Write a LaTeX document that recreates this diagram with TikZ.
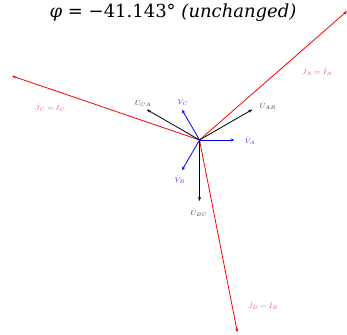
\documentclass[tikz,border=0pt]{standalone}
\usepackage{fontspec}
\newfontfamily\titlefont{DejaVu Serif}
\usetikzlibrary{calc,arrows.meta}
\begin{document}
\begin{tikzpicture}[x=1pt,y=1pt,
  cur/.style={draw=red,line width=0.8pt,-{Stealth[length=4pt,width=3pt]}},
  volt/.style={draw=black,line width=0.8pt,-{Stealth[length=4pt,width=3pt]}},
  phs/.style={draw=blue,line width=0.8pt,-{Stealth[length=4pt,width=3pt]}},
  lblr/.style={text=red!70,font=\fontsize{7.5}{8}\selectfont,inner sep=0pt},
  lblk/.style={text=black!80,font=\fontsize{7.5}{8}\selectfont,inner sep=0pt},
  lblb/.style={text=blue!80,font=\fontsize{7.5}{8}\selectfont,inner sep=0pt}]
\useasboundingbox (0,0) rectangle (347,334);
\coordinate (O) at (199.5,194);
\coordinate (JA) at ($(O)+(41.14:196)$);
\coordinate (JB) at ($(O)+(281.14:196)$);
\coordinate (JC) at ($(O)+(161.14:198)$);
\coordinate (UAB) at ($(O)+(30:61)$);
\coordinate (UBC) at ($(O)+(270:61)$);
\coordinate (UCA) at ($(O)+(150:61)$);
\coordinate (VA) at ($(O)+(0:35)$);
\coordinate (VB) at ($(O)+(240:35)$);
\coordinate (VC) at ($(O)+(120:35)$);
\draw[cur] (O) -- (JA);
\draw[cur] (O) -- (JB);
\draw[cur] (O) -- (JC);
\draw[volt] (O) -- (UAB);
\draw[volt] (O) -- (UBC);
\draw[volt] (O) -- (UCA);
\draw[phs] (O) -- (VA);
\draw[phs] (O) -- (VB);
\draw[phs] (O) -- (VC);
\node[lblr] (lJA) at (317,262) {$\dot{J}_A=\dot{I}_A$};
\node[lblr] (lJB) at (263,28) {$\dot{J}_B=\dot{I}_B$};
\node[lblr] (lJC) at (50,226) {$\dot{J}_C=\dot{I}_C$};
\node[lblk] (lUAB) at (268,228) {$\dot{U}_{AB}$};
\node[lblk] (lUBC) at (199,121) {$\dot{U}_{BC}$};
\node[lblk] (lUCA) at (143,231) {$\dot{U}_{CA}$};
\node[lblb] (lVA) at (250,193) {$\dot{V}_A$};
\node[lblb] (lVB) at (180,154) {$\dot{V}_B$};
\node[lblb] (lVC) at (183,232) {$\dot{V}_C$};
\node[font=\titlefont\fontsize{18}{21}\selectfont,inner sep=0pt] (title) at (173,321) {\textit{φ} = −41.143° \textit{(unchanged)}};
\end{tikzpicture}
\end{document}
